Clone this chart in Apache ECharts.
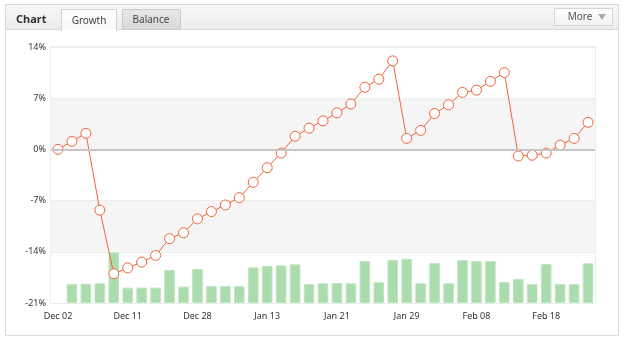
<!DOCTYPE html>
<html>
<head>
  <meta charset="utf-8">
  <title>Chart</title>
  <script src="https://cdn.jsdelivr.net/npm/echarts@6/dist/echarts.min.js"></script>
  <style>
    html, body { margin: 0; padding: 0; background: #fff; }
    #chart1 { width: 625px; height: 344px; }
  </style>
</head>
<body>
<div id="chart1"></div>
<script type="text/javascript">
  // categories (trading days), only every 5th is labelled
  let days = ['Dec 02','Dec 03','Dec 04','Dec 06','Dec 09','Dec 11','Dec 13','Dec 17','Dec 20','Dec 24',
              'Dec 28','Dec 31','Jan 03','Jan 07','Jan 10','Jan 13','Jan 15','Jan 16','Jan 17','Jan 20',
              'Jan 21','Jan 22','Jan 24','Jan 27','Jan 28','Jan 29','Jan 31','Feb 03','Feb 05','Feb 06',
              'Feb 08','Feb 10','Feb 12','Feb 13','Feb 14','Feb 18','Feb 19','Feb 20','Feb 21'];
  // growth in %
  let growth = [0.0, 1.1, 2.2, -8.3, -17.0, -16.2, -15.4, -14.5, -12.2, -11.4,
                -9.5, -8.5, -7.6, -6.6, -4.5, -2.5, -0.5, 1.8, 2.9, 3.9,
                5.0, 6.2, 8.5, 9.6, 12.1, 1.5, 2.6, 4.9, 6.1, 7.8,
                8.1, 9.3, 10.5, -0.9, -0.8, -0.5, 0.6, 1.5, 3.7];
  // volume bars (relative units), no bar on the first day
  let volume = ['-', 7.4, 7.5, 7.7, 19.8, 6.0, 6.0, 6.0, 12.9, 6.4,
                13.3, 6.6, 6.6, 6.6, 13.9, 14.5, 14.7, 15.1, 7.4, 7.7,
                7.8, 7.7, 16.4, 8.1, 16.8, 17.3, 7.7, 15.6, 7.7, 16.8,
                16.4, 16.4, 8.2, 9.4, 7.4, 15.2, 7.4, 7.4, 15.5];

  let font = '"Noto Sans", "DejaVu Sans", sans-serif';
  let myChart1 = echarts.init(document.getElementById('chart1'));

  myChart1.setOption({
    animation: false,
    textStyle: { fontFamily: font },
    grid: { left: 51, right: 30, top: 47, bottom: 41, show: true, borderColor: '#dcdcdc', borderWidth: 1 },
    graphic: [
      { type: 'rect', z: -10, shape: { x: 5.5, y: 4.5, width: 613, height: 331 },
        style: { fill: '#fff', stroke: '#dadada' } },
      { type: 'rect', z: 10, shape: { x: 5.5, y: 4.5, width: 613, height: 25 },
        style: { fill: new echarts.graphic.LinearGradient(0, 0, 0, 1, [{ offset: 0, color: '#f8f8f8' }, { offset: 1, color: '#ececec' }]), stroke: '#dadada' } },
      { type: 'text', z: 11, x: 16, y: 19.5,
        style: { text: 'Chart', font: 'bold 11px ' + font, fill: '#333', verticalAlign: 'middle' } },
      { type: 'rect', z: 11, shape: { x: 61.5, y: 9.5, width: 55, height: 21 },
        style: { fill: new echarts.graphic.LinearGradient(0, 0, 0, 1, [{ offset: 0, color: '#ffffff' }, { offset: 1, color: '#f6f6f6' }]), stroke: '#d2d2d2' } },
      { type: 'rect', z: 12, shape: { x: 62, y: 29, width: 54, height: 2 }, style: { fill: '#fff' } },
      { type: 'text', z: 12, x: 89, y: 21,
        style: { text: 'Growth', font: '10px ' + font, fill: '#444', align: 'center', verticalAlign: 'middle' } },
      { type: 'rect', z: 11, shape: { x: 122.5, y: 9.5, width: 58, height: 20 },
        style: { fill: new echarts.graphic.LinearGradient(0, 0, 0, 1, [{ offset: 0, color: '#e8e8e8' }, { offset: 1, color: '#d8d8d8' }]), stroke: '#cacaca' } },
      { type: 'text', z: 12, x: 151, y: 20.5,
        style: { text: 'Balance', font: '10px ' + font, fill: '#444', align: 'center', verticalAlign: 'middle' } },
      { type: 'rect', z: 11, shape: { x: 554.5, y: 8.5, width: 58, height: 17 },
        style: { fill: new echarts.graphic.LinearGradient(0, 0, 0, 1, [{ offset: 0, color: '#ffffff' }, { offset: 1, color: '#f2f2f2' }]), stroke: '#d6d6d6' } },
      { type: 'text', z: 12, x: 580, y: 17.5,
        style: { text: 'More', font: '10px ' + font, fill: '#555', align: 'center', verticalAlign: 'middle' } },
      { type: 'polygon', z: 12, shape: { points: [[598, 14], [606, 14], [602, 20]] }, style: { fill: '#aaa' } }
    ],
    xAxis: {
      type: 'category',
      data: days,
      boundaryGap: true,
      axisLine: { show: false },
      axisTick: { show: false },
      axisLabel: { interval: 4, color: '#333', fontSize: 9, margin: 9, fontFamily: font }
    },
    yAxis: [
      {
        type: 'value',
        min: -21, max: 14, interval: 7,
        axisLine: { show: false },
        axisTick: { show: false },
        axisLabel: { color: '#333', fontSize: 9, margin: 5, fontFamily: font, formatter: '{value}%' },
        splitLine: { show: true, lineStyle: { color: '#ececec' } },
        splitArea: { show: true, areaStyle: { color: ['#ffffff', '#f5f5f5'] } }
      },
      {
        type: 'value',
        min: 0, max: 100,
        show: false,
        splitLine: { show: false }
      }
    ],
    series: [
      {
        name: 'Volume',
        type: 'bar',
        yAxisIndex: 1,
        data: volume,
        barCategoryGap: '24%',
        itemStyle: { color: '#abdcad', borderColor: '#bfe5c0', borderWidth: 1 },
        z: 1
      },
      {
        name: 'Growth',
        type: 'line',
        data: growth,
        symbol: 'circle',
        symbolSize: 10,
        showAllSymbol: true,
        lineStyle: { color: '#f2643a', width: 1 },
        itemStyle: { color: '#fff', borderColor: '#f2643a', borderWidth: 1 },
        markLine: {
          silent: true,
          symbol: 'none',
          label: { show: false },
          lineStyle: { color: '#c6c6c6', width: 2, type: 'solid' },
          data: [{ yAxis: 0 }]
        },
        z: 3
      }
    ]
  });
</script>
</body>
</html>
